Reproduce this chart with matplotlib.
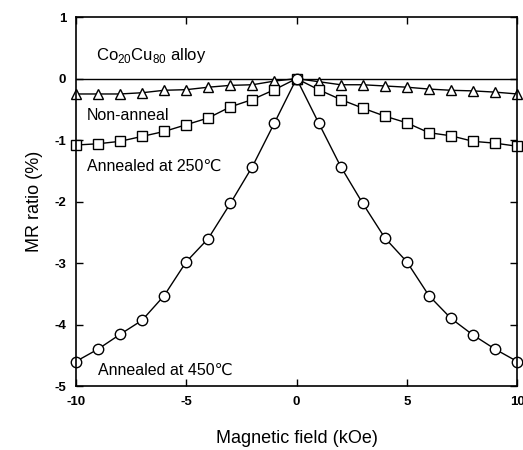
import numpy as np
import matplotlib
matplotlib.use('Agg')
import matplotlib.pyplot as plt

plt.rcParams['font.family'] = ['Liberation Sans', 'DejaVu Sans']
plt.rcParams['axes.unicode_minus'] = False

field = [-10, -9, -8, -7, -6, -5, -4, -3, -2, -1, 0, 1, 2, 3, 4, 5, 6, 7, 8, 9, 10]
non_anneal = [-0.25, -0.25, -0.25, -0.23, -0.19, -0.18, -0.14, -0.11, -0.10, -0.04, 0.0,
              -0.05, -0.10, -0.10, -0.12, -0.14, -0.17, -0.19, -0.20, -0.22, -0.25]
ann_250 = [-1.08, -1.06, -1.02, -0.94, -0.86, -0.75, -0.64, -0.46, -0.34, -0.18, 0.0,
           -0.18, -0.34, -0.48, -0.61, -0.72, -0.88, -0.93, -1.02, -1.05, -1.10]
ann_450 = [-4.60, -4.40, -4.16, -3.93, -3.53, -2.98, -2.60, -2.03, -1.43, -0.72, 0.0,
           -0.72, -1.43, -2.03, -2.59, -2.98, -3.53, -3.90, -4.17, -4.40, -4.60]

fig = plt.figure(figsize=(5.23, 4.5), dpi=100)
ax = fig.add_axes([0.145, 0.142, 0.844, 0.82])

ax.axhline(0, color='black', lw=1.0)
mk = dict(color='black', lw=1.0, mfc='white', mec='black', mew=1.0, clip_on=False)
ax.plot(field, non_anneal, marker='^', ms=6.5, **mk)
ax.plot(field, ann_250, marker='s', ms=7, **mk)
ax.plot(field, ann_450, marker='o', ms=7.5, **mk)

ax.set_xlim(-10, 10)
ax.set_ylim(-5, 1)
ax.set_xticks([-10, -5, 0, 5, 10])
ax.set_yticks([-5, -4, -3, -2, -1, 0, 1])
ax.tick_params(direction='in', top=True, right=True, length=5, width=1,
               labelsize=9.5, pad=7)
for lab in ax.get_xticklabels() + ax.get_yticklabels():
    lab.set_fontweight('bold')
for s in ax.spines.values():
    s.set_linewidth(1.2)

ax.set_xlabel('Magnetic field (kOe)', fontsize=13, labelpad=16)
ax.set_ylabel('MR ratio (%)', fontsize=13, labelpad=8)

ax.text(-9.1, 0.37, r'Co$_{\mathregular{20}}$Cu$_{\mathregular{80}}$ alloy', fontsize=12, va='center')
ax.text(-9.5, -0.6, 'Non-anneal', fontsize=11.5, va='center')
ax.text(-9.5, -1.42, 'Annealed at 250\u2103', fontsize=11.5, va='center')
ax.text(-9.0, -4.75, 'Annealed at 450\u2103', fontsize=11.5, va='center')

fig.savefig('out.png', dpi=100)
